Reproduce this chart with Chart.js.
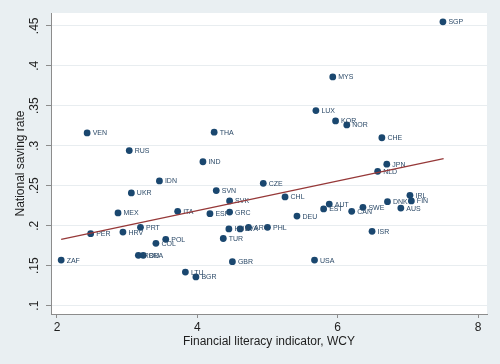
<!DOCTYPE html>
<html>
<head>
<meta charset="utf-8">
<script src="https://cdn.jsdelivr.net/npm/chart.js@4/dist/chart.umd.min.js"></script>
<style>
  body { margin: 0; background: #e9eff2; }
  canvas { display: block; }
</style>
</head>
<body>
<canvas id="graf" width="500" height="364"></canvas>
<script>
// country codes, financial literacy (WCY) and national saving rate
var countries = ['SGP','MYS','LUX','KOR','NOR','CHE','VEN','THA','RUS','IND',
  'IDN','UKR','SVN','CZE','SVK','MEX','ITA','ESP','GRC','CHL',
  'PER','HRV','PRT','POL','COL','TUR','HUN','LVA','ARG','PHL',
  'ZAF','ROU','BRA','LTU','BGR','GBR','USA','DEU','AUT','EST',
  'CAN','SWE','DNK','IRL','FIN','AUS','ISR','JPN','NLD'];
var literacy = [7.50,5.93,5.69,5.97,6.13,6.63,2.43,4.24,3.03,4.08,
  3.46,3.06,4.27,4.94,4.46,2.87,3.72,4.18,4.46,5.25,
  2.48,2.94,3.19,3.55,3.41,4.37,4.45,4.61,4.73,5.00,
  2.06,3.16,3.23,3.83,3.98,4.50,5.67,5.42,5.88,5.80,
  6.20,6.36,6.71,7.03,7.05,6.90,6.49,6.70,6.57];
var saving = [.455,.386,.344,.331,.326,.310,.316,.317,.294,.280,
  .256,.241,.244,.253,.231,.216,.218,.215,.217,.236,
  .190,.192,.198,.183,.178,.184,.196,.196,.198,.198,
  .157,.163,.163,.142,.136,.155,.157,.212,.227,.221,
  .218,.223,.230,.238,.231,.222,.193,.277,.268];

// fitted line end points
var fitX = [2.06, 7.51];
var fitY = [0.183, 0.284];

var xTicks = [2, 4, 6, 8];
var yTicks = [.1, .15, .2, .25, .3, .35, .4, .45];

var navy = '#1a476f';
var axisGray = '#8c8c8c';
var fontFam = '"Liberation Sans", Arial, sans-serif';

function fmtY(v) {
    return String(parseFloat(v.toFixed(2))).replace(/^0/, '');
}

var points = literacy.map(function (x, i) { return { x: x, y: saving[i] }; });
var line = fitX.map(function (x, i) { return { x: x, y: fitY[i] }; });

var bgPlugin = {
    id: 'bg',
    beforeDraw: function (chart) {
        var c = chart.ctx, a = chart.chartArea;
        c.save();
        c.fillStyle = '#e9eff2';
        c.fillRect(0, 0, chart.width, chart.height);
        c.fillStyle = '#ffffff';
        c.fillRect(a.left, a.top, a.right - a.left, a.bottom - a.top);
        c.restore();
    }
};

var labelPlugin = {
    id: 'labels',
    afterDatasetDraw: function (chart, args) {
        if (args.index !== 0) return;
        var c = chart.ctx;
        c.save();
        c.font = '7px ' + fontFam;
        c.fillStyle = '#2c4a68';
        c.textAlign = 'left';
        c.textBaseline = 'middle';
        args.meta.data.forEach(function (pt, i) {
            c.fillText(countries[i], pt.x + 5.5, pt.y + 0.5);
        });
        c.restore();
    },
    afterDraw: function (chart) {
        // rotated y tick labels, like Stata
        var c = chart.ctx, ys = chart.scales.y;
        c.save();
        c.font = '12px ' + fontFam;
        c.fillStyle = '#1e1e1e';
        c.textAlign = 'center';
        c.textBaseline = 'middle';
        yTicks.forEach(function (v) {
            c.save();
            c.translate(35, ys.getPixelForValue(v));
            c.rotate(-Math.PI / 2);
            c.fillText(fmtY(v), 0, 0);
            c.restore();
        });
        c.restore();
    }
};

var ctx = document.getElementById('graf').getContext('2d');
var myChart = new Chart(ctx, {
    type: 'scatter',
    data: {
        datasets: [{
            data: points,
            backgroundColor: navy,
            borderColor: navy,
            pointRadius: 3.4,
            borderWidth: 0,
            order: 1
        }, {
            type: 'line',
            data: line,
            borderColor: '#963838',
            borderWidth: 1.3,
            pointRadius: 0,
            fill: false,
            order: 0
        }]
    },
    options: {
        responsive: false,
        animation: false,
        layout: { padding: { left: 0, right: 13, top: 13, bottom: 0 } },
        plugins: { legend: { display: false }, tooltip: { enabled: false } },
        scales: {
            x: {
                type: 'linear',
                min: 1.915,
                max: 8.128,
                afterBuildTicks: function (s) { s.ticks = xTicks.map(function (v) { return { value: v }; }); },
                afterFit: function (s) { s.height = 50; },
                grid: { drawOnChartArea: false, drawTicks: true, tickLength: 4, tickColor: axisGray },
                border: { color: axisGray, width: 1 },
                ticks: { color: '#1e1e1e', font: { family: fontFam, size: 12 }, padding: 2, maxRotation: 0 },
                title: {
                    display: true,
                    text: 'Financial literacy indicator, WCY',
                    color: '#1e1e1e',
                    font: { family: fontFam, size: 12 },
                    padding: { top: 0, bottom: 15 }
                }
            },
            y: {
                type: 'linear',
                min: 0.0896,
                max: 0.466,
                afterBuildTicks: function (s) { s.ticks = yTicks.map(function (v) { return { value: v }; }); },
                afterFit: function (s) { s.width = 51; },
                grid: { color: '#e8edf0', lineWidth: 1, drawTicks: true, tickLength: 5, tickColor: axisGray },
                border: { color: axisGray, width: 1 },
                ticks: { display: false },
                title: {
                    display: true,
                    text: 'National saving rate',
                    color: '#1e1e1e',
                    font: { family: fontFam, size: 12 },
                    padding: { top: 13, bottom: 0 }
                }
            }
        }
    },
    plugins: [bgPlugin, labelPlugin]
});
</script>
</body>
</html>
